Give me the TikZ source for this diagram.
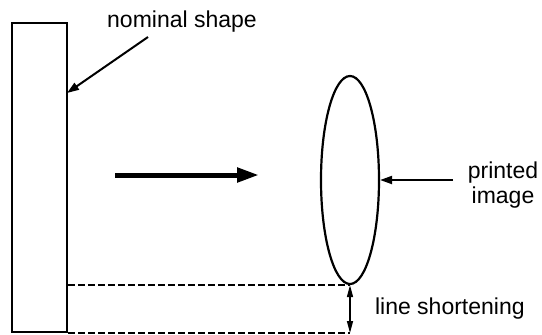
\documentclass[tikz,border=0pt]{standalone}
\usepackage{fontspec}
\setmainfont{Liberation Sans}
\usetikzlibrary{shapes.geometric, arrows.meta, positioning}

\begin{document}
\begin{tikzpicture}[x=0.5pt, y=-0.5pt, every node/.style={font=\fontsize{11.5}{12.5}\selectfont},
    pointer/.style={line width=1pt, -{Triangle[length=6pt, width=4pt]}},
    guide/.style={line width=0.75pt, dash pattern=on 3.5pt off 1.5pt}]
    \useasboundingbox (0,0) rectangle (542,334);
    % nominal shape (bar)
    \node[draw, line width=1pt, minimum width=27.5pt, minimum height=154.5pt, inner sep=0pt] (bar) at (39.5,177.5) {};
    % printed image (ellipse)
    \node[ellipse, draw, line width=1.1pt, minimum width=29pt, minimum height=104pt, inner sep=0pt] (blob) at (350,180) {};
    % labels
    \node[anchor=base] (nomlabel) at (182,27) {nominal shape};
    \node[align=center] (printlabel) at (503,185) {printed\\image};
    \node[anchor=base west] (shortlabel) at (368,314) {line shortening};
    % pointers
    \coordinate (nomtail) at (148,37);
    \coordinate (nomtip) at (67,93);
    \draw[pointer] (nomtail) -- (nomtip);
    \coordinate (printtail) at (453,180);
    \draw[pointer] (printtail) -- (blob.east);
    % direction of printing
    \coordinate (moveA) at (115,175);
    \coordinate (moveB) at (259,175);
    \draw[line width=2.5pt, -{Triangle[length=11pt, width=7pt]}] (moveA) -- (moveB);
    % shortening
    \coordinate (lowend) at (bar.south east -| blob.south);
    \draw[guide] (bar.east |- blob.south) -- (blob.south);
    \draw[guide] (bar.south east) -- (lowend);
    \draw[line width=0.75pt, {Triangle[length=6pt, width=3pt]}-{Triangle[length=6pt, width=3pt]}] (blob.south) -- (lowend);
\end{tikzpicture}
\end{document}
